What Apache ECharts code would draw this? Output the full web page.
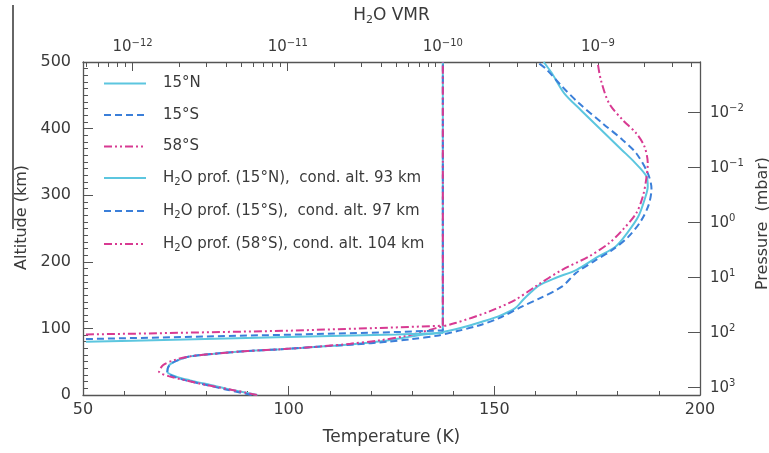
<!DOCTYPE html>
<html>
<head>
<meta charset="utf-8">
<script src="https://cdn.jsdelivr.net/npm/echarts@6/dist/echarts.min.js"></script>
<style>
html, body { margin: 0; padding: 0; background: #fff; }
#chart { width: 769px; height: 453px; }
</style>
</head>
<body>
<div id="chart"></div>
<script>
// temperature profiles: [T (K), altitude (km)]
var temp15N = [
    [92.4, 0], [86, 8], [81, 15], [76, 22], [72.5, 28], [70.5, 35], [71, 45], [73, 52],
    [76, 58], [82, 62], [90, 66], [99, 69], [107, 72.5], [115, 76], [123, 81], [128, 86],
    [132, 90], [137, 94], [142, 101], [147, 110], [151, 118], [155, 130], [157, 143],
    [159, 155], [161, 165], [165, 176], [170, 188], [175, 207], [179.5, 223], [182.5, 245],
    [185, 268], [186.5, 293], [187.3, 313], [187, 328], [184, 350], [181, 368], [176, 398],
    [171, 428], [167, 453], [164, 483], [162, 500]
];
var temp15S = [
    [91, 0], [85, 8], [80, 15], [75, 22], [72, 28], [70.5, 35], [71, 45], [73, 52],
    [76, 58], [82, 62], [90, 66], [99, 69], [107, 72.5], [116, 76], [124, 80], [130, 84],
    [136, 89], [141, 96], [146, 104], [151, 115], [156.8, 133], [161, 145], [166.5, 163],
    [169.8, 183], [174, 200], [178.5, 217], [182.5, 237], [185.5, 260], [187.5, 285],
    [188.2, 310], [187.3, 333], [184.5, 363], [181.2, 383], [176.3, 408], [170.6, 438],
    [166.5, 463], [162.5, 490], [160.4, 500]
];
var temp58S = [
    [92.3, 0], [86, 8], [80, 15], [75, 22], [71, 28], [68.5, 35], [69.5, 45], [72, 52],
    [76, 58], [82, 62], [90, 66], [99, 69], [107, 72.5], [115, 77], [122, 82], [128, 88],
    [132, 94], [135.6, 100], [140.5, 108], [148.6, 125], [155.1, 143], [160, 163],
    [166.5, 188], [173, 208], [177.9, 228], [181.2, 248], [184.5, 273], [186.1, 298],
    [186.9, 323], [187.3, 348], [186.5, 373], [184.5, 393], [181.2, 413], [177.9, 438],
    [175.9, 473], [175.1, 500]
];

// H2O profiles: [VMR, altitude (km)]
var h2o15N = [[5e-13, 80], [1e-12, 81.5], [1e-11, 87], [5e-11, 91], [1e-10, 93], [1e-10, 500]];
var h2o15S = [[5e-13, 84], [1e-12, 85.5], [1e-11, 90.5], [5e-11, 94.5], [1e-10, 97], [1e-10, 500]];
var h2o58S = [[5e-13, 91], [1e-12, 92], [1e-11, 96.5], [5e-11, 101.5], [1e-10, 104], [1e-10, 500]];

var seriesNames = [
    '15°N', '15°S', '58°S',
    'H2O prof. (15°N),  cond. alt. 93 km',
    'H2O prof. (15°S),  cond. alt. 97 km',
    'H2O prof. (58°S), cond. alt. 104 km'
];

// axis ticks
var vmrDecades = [-12, -11, -10, -9];
var vmrMinorMult = [2, 3, 4, 5, 6, 7, 8, 9];
var pressureExps = [-2, -1, 0, 1, 2, 3];

var vmrMin = -12.32, vmrMax = -8.342;
var vmrMinor = [];
[-13, -12, -11, -10, -9].forEach(function (d) {
    vmrMinorMult.forEach(function (k) {
        var v = d + Math.log10(k);
        if (v > vmrMin && v < vmrMax) vmrMinor.push(v);
    });
});

function logPts(arr) {
    return arr.map(function (p) { return [Math.log10(p[0]), p[1]]; });
}

var cCyan = '#5cc6df', cBlue = '#3b7fd9', cMag = '#d83a92';
var axisCol = '#555';
var textCol = '#3a3a3a';
var font = 'DejaVu Sans';

function pow10(v) {
    var e = Math.round(v);
    return '{b|10}{sup|' + (e < 0 ? '\u2212' + (-e) : e) + '}';
}
var powRich = {
    b: { fontSize: 15, color: textCol, fontFamily: font },
    sup: { fontSize: 10, color: textCol, fontFamily: font, verticalAlign: 'bottom', padding: [0, 0, 8, 0] }
};
var subRich = {
    n: { fontSize: 17, color: textCol, fontFamily: font },
    sub: { fontSize: 11, color: textCol, fontFamily: font, verticalAlign: 'top', padding: [10, 0, 0, 0] }
};

var dashDot = [8, 3, 2, 3, 2, 3];
var noZero = { onZero: false, lineStyle: { color: axisCol, width: 1.3 } };

var option = {
    animation: false,
    backgroundColor: '#fff',
    grid: { left: 83, right: 69, top: 62, bottom: 58, containLabel: false, outerBoundsMode: 'none' },
    legend: {
        orient: 'vertical',
        left: 103,
        top: 76,
        padding: 0,
        itemWidth: 42,
        itemHeight: 14,
        itemGap: 16.5,
        data: seriesNames,
        itemStyle: { opacity: 0 },
        formatter: function (name) {
            return name.replace('H2O', '{n|H}{sub|2}{n|O}');
        },
        textStyle: {
            fontSize: 15, color: textCol, fontFamily: font, padding: [0, 0, 0, 12],
            rich: {
                n: { fontSize: 15, color: textCol, fontFamily: font },
                sub: { fontSize: 10, color: textCol, fontFamily: font, verticalAlign: 'top', padding: [8, 0, 0, 0] }
            }
        }
    },
    graphic: [{
        type: 'line',
        shape: { x1: 13, y1: 5, x2: 13, y2: 229 },
        style: { stroke: '#333', lineWidth: 1.5 }
    }],
    xAxis: [{
        type: 'value',
        position: 'bottom',
        min: 50, max: 200, interval: 50,
        name: 'Temperature (K)',
        nameLocation: 'middle',
        nameGap: 34,
        nameTextStyle: { fontSize: 17, color: textCol, fontFamily: font },
        axisLine: noZero,
        axisTick: { inside: true, length: 9, lineStyle: { color: axisCol } },
        minorTick: { show: true, splitNumber: 5, length: 4, lineStyle: { color: axisCol } },
        axisLabel: { fontSize: 16, color: textCol, fontFamily: font, margin: 7 },
        splitLine: { show: false }
    }, {
        type: 'value',
        position: 'top',
        min: vmrMin, max: vmrMax,
        name: '{n|H}{sub|2}{n|O VMR}',
        nameLocation: 'middle',
        nameGap: 36,
        nameTextStyle: { rich: subRich },
        axisLine: noZero,
        axisTick: { inside: true, length: 9, customValues: vmrDecades, lineStyle: { color: axisCol } },
        axisLabel: { customValues: vmrDecades, formatter: pow10, rich: powRich, margin: 6 },
        splitLine: { show: false }
    }, {
        type: 'value',
        position: 'top',
        min: vmrMin, max: vmrMax,
        axisLine: { show: false, onZero: false },
        axisTick: { inside: true, length: 5, customValues: vmrMinor, lineStyle: { color: axisCol } },
        axisLabel: { show: false },
        splitLine: { show: false }
    }],
    yAxis: [{
        type: 'value',
        position: 'left',
        min: 0, max: 500, interval: 100,
        name: 'Altitude (km)',
        nameLocation: 'middle',
        nameRotate: 90,
        nameGap: 48,
        nameTextStyle: { fontSize: 16, color: textCol, fontFamily: font, padding: [0, 0, 0, 22] },
        axisLine: noZero,
        axisTick: { inside: true, length: 10, lineStyle: { color: axisCol } },
        minorTick: { show: true, splitNumber: 10, length: 5, lineStyle: { color: axisCol } },
        axisLabel: { fontSize: 16, color: textCol, fontFamily: font, margin: 12 },
        splitLine: { show: false }
    }, {
        type: 'value',
        position: 'right',
        inverse: true,
        min: -2.922, max: 3.133,
        name: 'Pressure  (mbar)',
        nameLocation: 'middle',
        nameRotate: 90,
        nameGap: 37,
        nameTextStyle: { fontSize: 16, color: textCol, fontFamily: font, padding: [0, 0, 0, 10] },
        axisLine: noZero,
        axisTick: { inside: true, length: 12, customValues: pressureExps, lineStyle: { color: axisCol } },
        axisLabel: { customValues: pressureExps, formatter: pow10, rich: powRich, margin: 10 },
        splitLine: { show: false }
    }],
    series: [{
        name: seriesNames[0], type: 'line', xAxisIndex: 0, yAxisIndex: 0,
        data: temp15N, symbol: 'none', smooth: 0.3, color: cCyan,
        lineStyle: { color: cCyan, width: 2, type: 'solid' }
    }, {
        name: seriesNames[1], type: 'line', xAxisIndex: 0, yAxisIndex: 0,
        data: temp15S, symbol: 'none', smooth: 0.3, color: cBlue,
        lineStyle: { color: cBlue, width: 2, type: [7, 4] }
    }, {
        name: seriesNames[2], type: 'line', xAxisIndex: 0, yAxisIndex: 0,
        data: temp58S, symbol: 'none', smooth: 0.3, color: cMag,
        lineStyle: { color: cMag, width: 2, type: dashDot }
    }, {
        name: seriesNames[3], type: 'line', xAxisIndex: 1, yAxisIndex: 0,
        data: logPts(h2o15N), symbol: 'none', color: cCyan,
        lineStyle: { color: cCyan, width: 2, type: 'solid' }
    }, {
        name: seriesNames[4], type: 'line', xAxisIndex: 1, yAxisIndex: 0,
        data: logPts(h2o15S), symbol: 'none', color: cBlue,
        lineStyle: { color: cBlue, width: 2, type: [7, 4] }
    }, {
        name: seriesNames[5], type: 'line', xAxisIndex: 1, yAxisIndex: 0,
        data: logPts(h2o58S), symbol: 'none', color: cMag,
        lineStyle: { color: cMag, width: 2, type: dashDot }
    }]
};

var chart = echarts.init(document.getElementById('chart'));
chart.setOption(option);
</script>
</body>
</html>
